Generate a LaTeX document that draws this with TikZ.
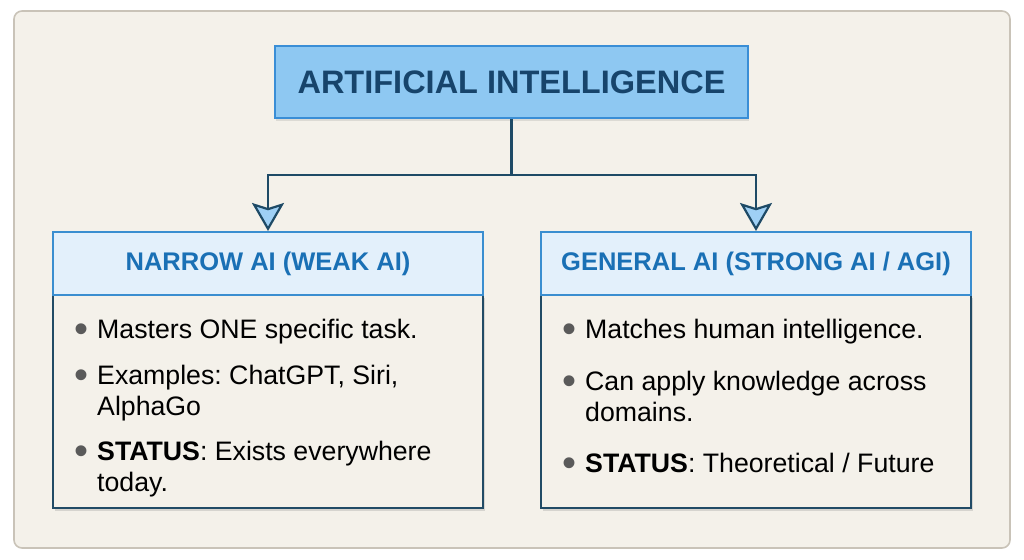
\documentclass[tikz,border=0pt]{standalone}
\usepackage{fontspec}
\setmainfont{Liberation Sans}
\usepackage{tikz}
\usepackage{xcolor}
\usetikzlibrary{positioning,arrows.meta,shadows}
\definecolor{panelbg}{HTML}{F4F1EA}
\definecolor{panelline}{HTML}{C9C3B8}
\definecolor{titlefill}{HTML}{8EC8F2}
\definecolor{titleline}{HTML}{3A8ED6}
\definecolor{titletext}{HTML}{17446B}
\definecolor{headfill}{HTML}{E3F0FB}
\definecolor{headline}{HTML}{3A8ED0}
\definecolor{headtext}{HTML}{1A70B5}
\definecolor{bodyline}{HTML}{214B66}
\definecolor{linkcol}{HTML}{1E4A66}
\definecolor{tipfill}{HTML}{9FD0F5}
\definecolor{dotgray}{HTML}{5A5A5A}

\newcommand{\bul}{\makebox[10pt]{\raisebox{-4pt}{\fontsize{40}{40}\selectfont\textcolor{dotgray}{\textbullet}}}}
\frenchspacing

\begin{document}
\begin{tikzpicture}[x=1pt,y=1pt,
        every node/.style={inner sep=0pt, align=center},
        panel/.style={draw=panelline, fill=panelbg, line width=1.6pt, rounded corners=8pt},
        title/.style={draw=titleline, fill=titlefill, line width=2.4pt, minimum width=473pt, minimum height=72pt,
          font=\fontsize{32.5}{36}\selectfont\bfseries, text=titletext,
          drop shadow={opacity=0.2, shadow xshift=1pt, shadow yshift=-3pt}},
        head/.style={draw=headline, fill=headfill, line width=2pt, minimum width=430pt, minimum height=63pt,
          font=\fontsize{25.5}{28}\selectfont\bfseries, text=headtext},
        body/.style={draw=bodyline, fill=panelbg, line width=2pt, minimum width=430pt, minimum height=213pt,
          drop shadow={opacity=0.25, shadow xshift=1.5pt, shadow yshift=-2.5pt}},
        item/.style={anchor=north west, align=left, font=\fontsize{26.7}{31}\selectfont},
        arr/.style={-{Stealth[width=32pt,length=28pt,inset=5pt,fill=tipfill]}, line width=2.2pt, draw=linkcol}
      ]
        \useasboundingbox (0,0) rectangle (1024,-559);
        \draw[panel] (14,-11) rectangle (1010,-548);

        \node[title] (ai) at (511.5,-82) {ARTIFICIAL INTELLIGENCE};

        % narrow AI column
        \node[body] (narrowbody) at (268,-401.5) {};
        \node[head] (narrow) at (268,-263.5) {NARROW AI (WEAK AI)};
        \node[item] (n1) at (76,-317) {\begin{tabular}{@{}l@{\hspace{11pt}}l@{}}\bul & Masters ONE specific task.\end{tabular}};
        \node[item, below=14pt of n1.south west, anchor=north west] (n2) {\begin{tabular}{@{}l@{\hspace{11pt}}l@{}}\bul & Examples: ChatGPT, Siri,\\ & AlphaGo\end{tabular}};
        \node[item, below=14pt of n2.south west, anchor=north west] (n3) {\begin{tabular}{@{}l@{\hspace{11pt}}l@{}}\bul & \textbf{STATUS}: Exists everywhere\\ & today.\end{tabular}};

        % general AI column
        \node[body] (generalbody) at (756,-401.5) {};
        \node[head] (general) at (756,-263.5) {GENERAL AI (STRONG AI / AGI)};
        \node[item] (g1) at (564,-317) {\begin{tabular}{@{}l@{\hspace{11pt}}l@{}}\bul & Matches human intelligence.\end{tabular}};
        \node[item, below=20pt of g1.south west, anchor=north west] (g2) {\begin{tabular}{@{}l@{\hspace{11pt}}l@{}}\bul & Can apply knowledge across\\ & domains.\end{tabular}};
        \node[item, below=20pt of g2.south west, anchor=north west] (g3) {\begin{tabular}{@{}l@{\hspace{11pt}}l@{}}\bul & \textbf{STATUS}: Theoretical / Future\end{tabular}};

        \draw[arr] (ai.south) -- ++(0,-56) -| (narrow.north);
        \draw[arr] (ai.south) -- ++(0,-56) -| (general.north);
      \end{tikzpicture}
\end{document}
